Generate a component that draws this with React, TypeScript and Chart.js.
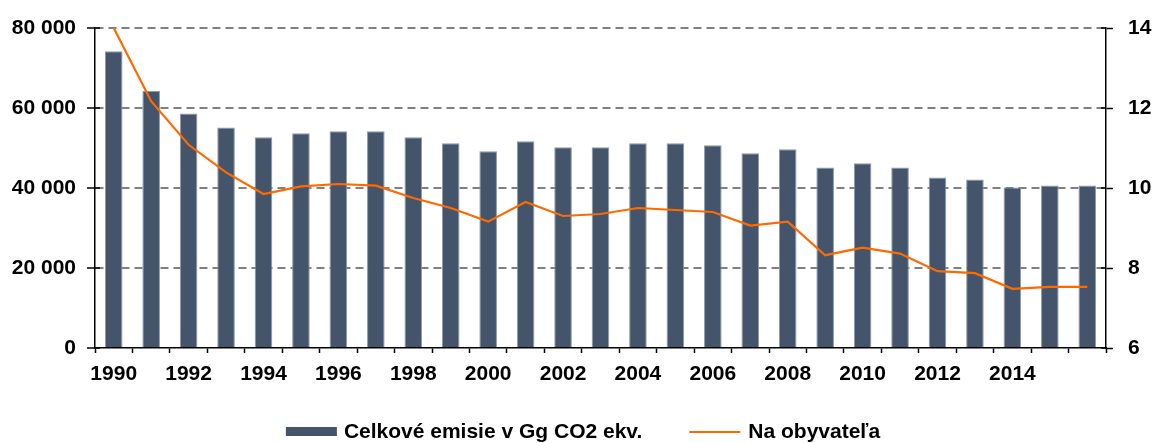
import React, { useEffect, useRef } from "react";
import { Chart, registerables } from "chart.js";

Chart.register(...registerables);

const years: string[] = [
  "1990", "1991", "1992", "1993", "1994", "1995", "1996", "1997", "1998", "1999",
  "2000", "2001", "2002", "2003", "2004", "2005", "2006", "2007", "2008", "2009",
  "2010", "2011", "2012", "2013", "2014", "2015", "2016",
];

const xTickLabels: string[] = [
  "1990", "", "1992", "", "1994", "", "1996", "", "1998", "",
  "2000", "", "2002", "", "2004", "", "2006", "", "2008", "",
  "2010", "", "2012", "", "2014", "", "",
];

const emissions: number[] = [
  74200, 64300, 58600, 55100, 52700, 53700, 54200, 54200, 52700, 51200,
  49200, 51700, 50200, 50200, 51200, 51200, 50700, 48700, 49700, 45100,
  46200, 45100, 42600, 42100, 40100, 40600, 40600,
];

const perCapita: number[] = [
  14.0, 12.17, 11.08, 10.39, 9.85, 10.04, 10.1, 10.06, 9.75, 9.5,
  9.16, 9.65, 9.3, 9.35, 9.5, 9.45, 9.4, 9.06, 9.16, 8.32,
  8.51, 8.36, 7.92, 7.87, 7.48, 7.53, 7.53,
];

const leftTickLabels: string[] = ["0", "20 000", "40 000", "60 000", "80 000"];
const rightTickLabels: string[] = ["6", "8", "10", "12", "14"];

const seriesNames: string[] = ["Celkové emisie v Gg CO2 ekv.", "Na obyvateľa"];

const BAR_COLOR = "#44546A";
const LINE_COLOR = "#FF6A00";
const FONT_FAMILY = "'Liberation Sans', Arial, sans-serif";
const FONT = { family: FONT_FAMILY, size: 21, weight: "bold" as const, lineHeight: 1.2 };

const innerTicksPlugin = {
  id: "innerTicks",
  afterDraw(chart: any) {
    const ctx = chart.ctx;
    const area = chart.chartArea;
    const yL = chart.scales.y;
    const yR = chart.scales.y1;
    ctx.save();
    ctx.strokeStyle = "#000";
    ctx.lineWidth = 1.5;
    ctx.beginPath();
    yL.ticks.forEach((t: any) => {
      const py = Math.round(yL.getPixelForValue(t.value));
      ctx.moveTo(area.left, py);
      ctx.lineTo(area.left + 5, py);
    });
    yR.ticks.forEach((t: any) => {
      const py = Math.round(yR.getPixelForValue(t.value));
      ctx.moveTo(area.right - 5, py);
      ctx.lineTo(area.right, py);
    });
    ctx.stroke();
    ctx.restore();
  },
};

const customLegendPlugin = {
  id: "customLegend",
  afterDraw(chart: any) {
    const ctx = chart.ctx;
    const ds = chart.data.datasets;
    const barDs = ds.find((d: any) => d.type === "bar");
    const lineDs = ds.find((d: any) => d.type === "line");
    ctx.save();
    ctx.font = `bold 21px ${FONT_FAMILY}`;
    ctx.fillStyle = "#000";
    ctx.textBaseline = "alphabetic";
    const w1 = ctx.measureText(barDs.label).width;
    const w2 = ctx.measureText(lineDs.label).width;
    const swatch = 51;
    const total = swatch + 7 + w1 + 47 + swatch + 8 + w2;
    const cx = 583;
    let x = cx - total / 2;
    const baseline = 438;
    ctx.fillStyle = barDs.backgroundColor;
    ctx.fillRect(x, 427, swatch, 9);
    x += swatch + 7;
    ctx.fillStyle = "#000";
    ctx.fillText(barDs.label, x, baseline);
    x += w1 + 47;
    ctx.strokeStyle = lineDs.borderColor;
    ctx.lineWidth = 2;
    ctx.beginPath();
    ctx.moveTo(x, 432);
    ctx.lineTo(x + swatch, 432);
    ctx.stroke();
    x += swatch + 8;
    ctx.fillText(lineDs.label, x, baseline);
    ctx.restore();
  },
};

export default function App() {
  const canvasRef = useRef<HTMLCanvasElement | null>(null);

  useEffect(() => {
    if (!canvasRef.current) return;
    const chart = new Chart(canvasRef.current, {
      type: "bar",
      data: {
        labels: years,
        datasets: [
          {
            type: "line",
            label: seriesNames[1],
            data: perCapita,
            yAxisID: "y1",
            borderColor: LINE_COLOR,
            backgroundColor: LINE_COLOR,
            borderWidth: 2.2,
            pointRadius: 0,
            tension: 0,
            order: 0,
          } as any,
          {
            type: "bar",
            label: seriesNames[0],
            data: emissions,
            yAxisID: "y",
            backgroundColor: BAR_COLOR,
            borderColor: "#8d99a9",
            borderWidth: 1,
            categoryPercentage: 1,
            barPercentage: 0.47,
            order: 1,
          } as any,
        ],
      },
      options: {
        responsive: false,
        animation: false,
        devicePixelRatio: 1,
        layout: { padding: { top: 28, bottom: 55, left: 0, right: 0 } },
        plugins: {
          legend: { display: false },
          tooltip: { enabled: false },
        },
        scales: {
          x: {
            offset: true,
            grid: {
              offset: true,
              drawOnChartArea: false,
              drawTicks: true,
              tickLength: 5,
              tickColor: "#000",
              tickWidth: 1.5,
            },
            border: { display: true, color: "#000", width: 1.5 },
            ticks: {
              autoSkip: false,
              maxRotation: 0,
              minRotation: 0,
              padding: 9,
              color: "#000",
              font: FONT,
              callback: (_v: any, i: number) => xTickLabels[i],
            },
            afterFit: (s: any) => {
              s.height = 40;
            },
          },
          y: {
            position: "left",
            min: 0,
            max: 80000,
            grid: {
              drawOnChartArea: true,
              color: (c: any) => (c.tick && c.tick.value === 0 ? "rgba(0,0,0,0)" : "#808080"),
              lineWidth: 2,
              drawTicks: true,
              tickLength: 8,
              tickColor: "#000",
              tickWidth: 1.5,
            },
            border: { display: true, color: "#000", width: 1.5, dash: [8, 5] },
            ticks: {
              stepSize: 20000,
              padding: 11,
              color: "#000",
              font: FONT,
              callback: (_v: any, i: number) => leftTickLabels[i],
            },
            afterFit: (s: any) => {
              s.width = 95;
            },
          },
          y1: {
            position: "right",
            min: 6,
            max: 14,
            grid: {
              drawOnChartArea: false,
              drawTicks: true,
              tickLength: 7,
              tickColor: "#000",
              tickWidth: 1.5,
            },
            border: { display: true, color: "#000", width: 1.5 },
            ticks: {
              stepSize: 2,
              padding: 15,
              color: "#000",
              font: FONT,
              callback: (_v: any, i: number) => rightTickLabels[i],
            },
            afterFit: (s: any) => {
              s.width = 48;
            },
          },
        },
      } as any,
      plugins: [innerTicksPlugin, customLegendPlugin],
    });
    return () => chart.destroy();
  }, []);

  return (
    <div style={{ position: "absolute", left: 0, top: 0, width: 1154, height: 443, background: "#fff" }}>
      <canvas ref={canvasRef} width={1154} height={443} />
    </div>
  );
}
